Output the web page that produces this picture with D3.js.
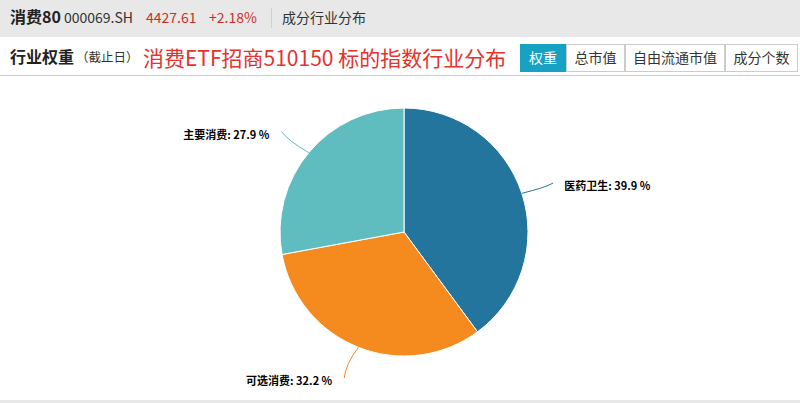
<!DOCTYPE html>
<html>
<head>
<meta charset="utf-8">
<script src="https://cdn.jsdelivr.net/npm/d3@7"></script>
<style>
html,body{margin:0;padding:0;background:#fff;}
svg{display:block;font-family:"Noto Sans CJK SC","Noto Sans",sans-serif;}
</style>
</head>
<body>
<svg id="chart" width="800" height="403"></svg>
<script>
// ---- data ----
const categories = ["医药卫生", "可选消费", "主要消费"];
const weights = [39.9, 32.2, 27.9];
const colors = ["#23759e", "#f58a1f", "#60bdbf"];
const tabLabels = ["权重", "总市值", "自由流通市值", "成分个数"];
const tabWidths = [46, 59, 100, 73];

const svg = d3.select("#chart");
const W = 800, H = 403;

// header band
svg.append("rect").attr("x",0).attr("y",0).attr("width",W).attr("height",37).attr("fill","#e8e8e8");
const hdr = svg.append("text").attr("x",10).attr("y",23);
hdr.append("tspan").attr("font-size",16).attr("font-weight","bold").attr("fill","#222").text("消费80");
svg.append("text").attr("x",64).attr("y",23).attr("font-size",14).attr("fill","#333").text("000069.SH");
svg.append("text").attr("x",146).attr("y",23).attr("font-size",14).attr("fill","#c9302c").text("4427.61");
svg.append("text").attr("x",209).attr("y",23).attr("font-size",14).attr("fill","#c9302c").text("+2.18%");
svg.append("line").attr("x1",271.5).attr("x2",271.5).attr("y1",8).attr("y2",28).attr("stroke","#cfcfcf");
svg.append("text").attr("x",282).attr("y",23).attr("font-size",14).attr("fill","#333").text("成分行业分布");

// title row
svg.append("text").attr("x",10).attr("y",63).attr("font-size",16).attr("font-weight","bold").attr("fill","#222").text("行业权重");
svg.append("text").attr("x",76).attr("y",62).attr("font-size",12.5).attr("fill","#333").text("（截止日）");
svg.append("text").attr("x",143).attr("y",66).attr("font-size",21).attr("fill","#e5322d").text("消费ETF招商510150 标的指数行业分布");
svg.append("line").attr("x1",0).attr("x2",W).attr("y1",75.5).attr("y2",75.5).attr("stroke","#cccccc");

// tabs
let tx = 520;
tabLabels.forEach((t,i)=>{
  const w = tabWidths[i];
  const active = i===0;
  svg.append("rect").attr("x",tx+0.5).attr("y",44.5).attr("width",w-1).attr("height",27)
    .attr("fill", active ? "#17a2c4" : "#fff").attr("stroke", active ? "#17a2c4" : "#cccccc");
  svg.append("text").attr("x",tx+w/2).attr("y",63).attr("text-anchor","middle").attr("font-size",14)
    .attr("fill", active ? "#fff" : "#333").text(t);
  tx += w;
});

// bottom band
svg.append("rect").attr("x",0).attr("y",400).attr("width",W).attr("height",3).attr("fill","#e8e8e8");

// pie
const cx = 404, cy = 232, R = 124;
const data = categories.map((c,i)=>({name:c, value:weights[i], color:colors[i]}));
const pie = d3.pie().value(d=>d.value).sort(null);
const arcs = pie(data);
const arc = d3.arc().innerRadius(0).outerRadius(R);
const g = svg.append("g").attr("transform",`translate(${cx},${cy})`);
g.selectAll("path.slice").data(arcs).enter().append("path")
  .attr("d",arc).attr("fill",d=>d.data.color).attr("stroke","#fff").attr("stroke-width",1);

// labels with connectors
arcs.forEach(a=>{
  const mid = (a.startAngle + a.endAngle)/2;
  const px = (r)=>Math.sin(mid)*r, py=(r)=>-Math.cos(mid)*r;
  const right = Math.sin(mid) > 0;
  const sx = px(R), sy = py(R);
  const ex = px(R+33) + (right? 0 : -2), ey = py(R+33);
  const cxp = px(R+18), cyp = py(R+18);
  const p = d3.path();
  p.moveTo(sx,sy);
  p.quadraticCurveTo(cxp + (right? 6 : -6), cyp, ex, ey);
  g.append("path").attr("d",p.toString()).attr("fill","none").attr("stroke",a.data.color).attr("stroke-width",1);
  g.append("text")
    .attr("x", right ? ex+11 : ex-12)
    .attr("y", ey+7)
    .attr("text-anchor", right ? "start" : "end")
    .attr("font-size",11).attr("font-weight","bold").attr("fill","#000")
    .text(`${a.data.name}: ${a.data.value.toFixed(1)} %`);
});
</script>
</body>
</html>
